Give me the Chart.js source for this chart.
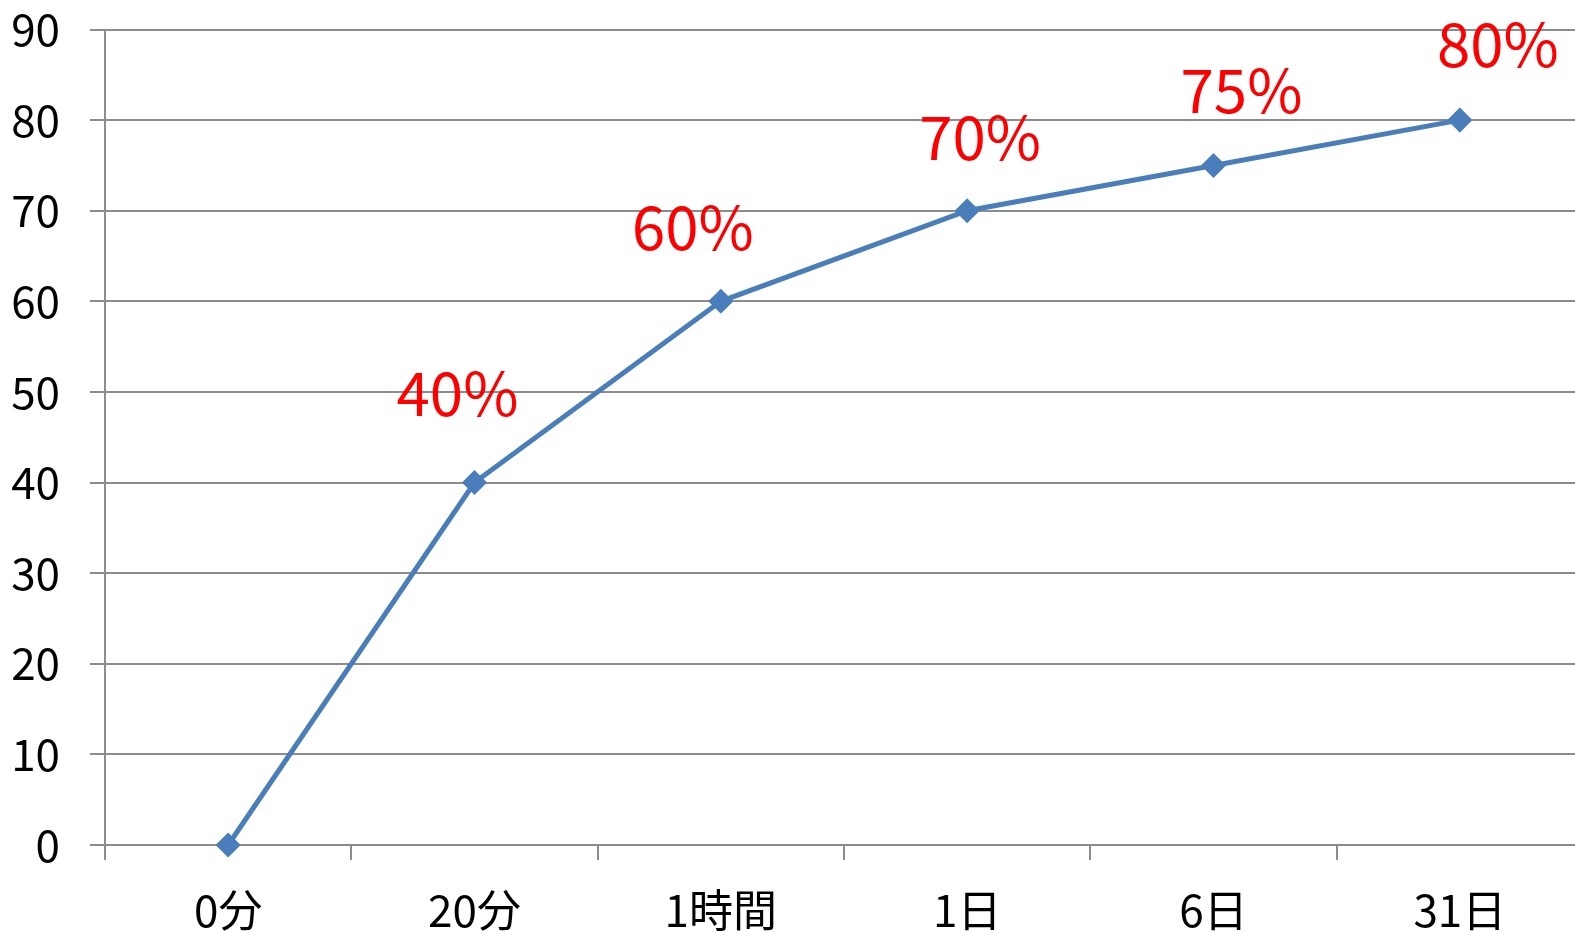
<!DOCTYPE html>
<html>
<head>
<meta charset="utf-8">
<script src="https://cdn.jsdelivr.net/npm/chart.js@4"></script>
<style>
html,body{margin:0;padding:0;background:#fff;overflow:hidden;}
#wrap{position:relative;width:1600px;height:932px;}
</style>
</head>
<body>
<div id="wrap"><canvas id="c"></canvas></div>
<script>
const categories = ["0分", "20分", "1時間", "1日", "6日", "31日"];
const values = [0, 40, 60, 70, 75, 80];
const pointLabels = ["", "40%", "60%", "70%", "75%", "80%"];
const yTicks = [0, 10, 20, 30, 40, 50, 60, 70, 80, 90];

const FONT = "'Noto Sans CJK JP', 'Noto Sans', sans-serif";
// label offsets from each point (styling only)
const labelOffsets = [[0,0],[-17,-89],[-28,-74],[13,-74],[28,-75],[38,-76]];

const labelPlugin = {
  id: 'pctLabels',
  afterDatasetsDraw(chart) {
    const ctx = chart.ctx;
    const meta = chart.getDatasetMeta(0);
    ctx.save();
    ctx.fillStyle = '#ff0000';
    ctx.font = "60px " + FONT;
    ctx.textAlign = 'center';
    ctx.textBaseline = 'middle';
    meta.data.forEach((pt, i) => {
      const t = pointLabels[i];
      if (!t) return;
      const o = labelOffsets[i];
      ctx.fillText(t, pt.x + o[0], pt.y + o[1]);
    });
    ctx.restore();
  }
};

new Chart(document.getElementById('c'), {
  type: 'line',
  data: {
    labels: categories,
    datasets: [{
      data: values,
      borderColor: '#4a7ebb',
      backgroundColor: '#4a7ebb',
      borderWidth: 5,
      pointStyle: 'rectRot',
      pointRadius: 9,
      pointHoverRadius: 9,
      tension: 0,
      clip: false
    }]
  },
  options: {
    responsive: true,
    maintainAspectRatio: false,
    animation: false,
    events: [],
    layout: { padding: { top: 29.5, right: 17, left: 0, bottom: 0 } },
    plugins: { legend: { display: false }, tooltip: { enabled: false } },
    scales: {
      x: {
        type: 'category',
        offset: true,
        grid: { offset: true, drawOnChartArea: false, drawTicks: true, tickLength: 15, color: '#8c8c8c', lineWidth: 2 },
        border: { display: true, color: '#8c8c8c', width: 2 },
        ticks: { font: { family: FONT, size: 44 }, color: '#000', padding: 24, maxRotation: 0 },
        afterFit(s) { s.height = 87; s.paddingLeft = 0; s.paddingRight = 0; }
      },
      y: {
        min: 0, max: 90,
        afterBuildTicks(s) { s.ticks = yTicks.map(v => ({ value: v })); },
        grid: { color: '#8c8c8c', lineWidth: 2, tickLength: 15 },
        border: { display: true, color: '#8c8c8c', width: 2 },
        ticks: { font: { family: FONT, size: 44 }, color: '#000', padding: 30 },
        afterFit(s) { s.width = 105; s.paddingTop = 0; s.paddingBottom = 0; }
      }
    }
  },
  plugins: [labelPlugin]
});
</script>
</body>
</html>
